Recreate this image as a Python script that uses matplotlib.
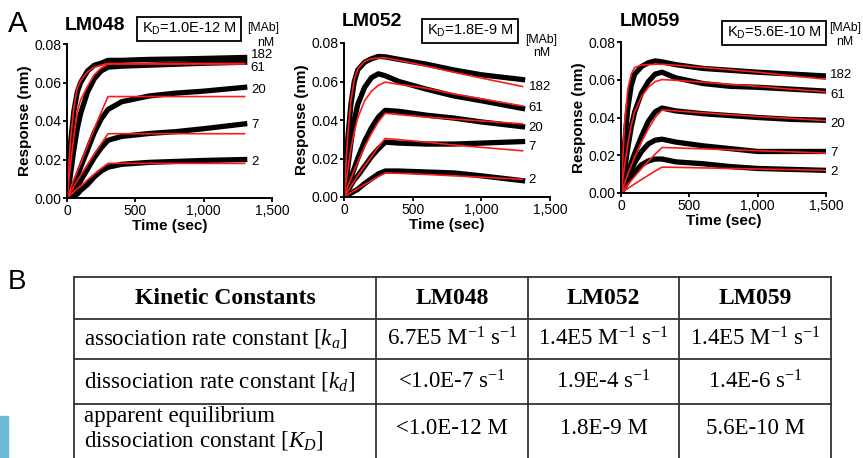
import numpy as np
import matplotlib
matplotlib.use("Agg")
import matplotlib.pyplot as plt
from matplotlib.patches import Rectangle

plt.rcParams['font.family'] = ['Liberation Sans', 'DejaVu Sans']
plt.rcParams['mathtext.fontset'] = 'custom'
plt.rcParams['mathtext.rm'] = 'Liberation Serif'
plt.rcParams['mathtext.it'] = 'Liberation Serif:italic'
plt.rcParams['mathtext.sf'] = 'Liberation Sans'

# ---- sensorgram data ----
conc = ['182', '61', '20', '7', '2']

t_ab = [0, 25, 50, 75, 100, 150, 200, 250, 300, 400, 600, 800, 1000, 1300]
t_c = [0, 25, 50, 75, 100, 150, 200, 250, 300, 400, 600, 800, 1000, 1250, 1500]

# LM048
lm048_data = [
    [0, 0.028, 0.045, 0.055, 0.060, 0.066, 0.069, 0.070, 0.0715, 0.0715, 0.072, 0.0722, 0.0725, 0.073],
    [0, 0.012, 0.025, 0.036, 0.044, 0.055, 0.062, 0.066, 0.068, 0.0685, 0.069, 0.0695, 0.070, 0.0705],
    [0, 0.003, 0.007, 0.011, 0.016, 0.025, 0.034, 0.041, 0.046, 0.050, 0.053, 0.0545, 0.0555, 0.0575],
    [0, 0.001, 0.003, 0.006, 0.009, 0.015, 0.021, 0.026, 0.030, 0.032, 0.0335, 0.0345, 0.036, 0.0385],
    [0, 0.000, 0.001, 0.002, 0.004, 0.007, 0.011, 0.014, 0.016, 0.0175, 0.0185, 0.019, 0.0195, 0.020],
]
lm048_fit = [
    [0, 0.030, 0.047, 0.057, 0.061, 0.0655, 0.068, 0.069, 0.0699, 0.0699, 0.0699, 0.0699, 0.0699, 0.0699],
    [0, 0.017, 0.032, 0.045, 0.051, 0.058, 0.064, 0.0675, 0.0696, 0.0696, 0.0696, 0.0696, 0.0696, 0.0696],
    [0, 0.0048, 0.0094, 0.0138, 0.018, 0.027, 0.036, 0.0445, 0.0527, 0.0527, 0.0527, 0.0527, 0.0527, 0.0527],
    [0, 0.003, 0.006, 0.009, 0.0118, 0.0174, 0.0229, 0.0282, 0.0334, 0.0334, 0.0334, 0.0334, 0.0334, 0.0334],
    [0, 0.0016, 0.0032, 0.0048, 0.0063, 0.0094, 0.0124, 0.0153, 0.018, 0.018, 0.018, 0.018, 0.018, 0.018],
]
lm048_lab_y = [0.0743, 0.0675, 0.0561, 0.0379, 0.0187]

# LM052
lm052_data = [
    [0, 0.028, 0.048, 0.060, 0.066, 0.070, 0.0718, 0.073, 0.0728, 0.0715, 0.069, 0.066, 0.0635, 0.061],
    [0, 0.014, 0.028, 0.040, 0.048, 0.057, 0.062, 0.064, 0.063, 0.060, 0.056, 0.0525, 0.050, 0.046],
    [0, 0.005, 0.010, 0.015, 0.020, 0.029, 0.036, 0.0415, 0.045, 0.0445, 0.0425, 0.041, 0.039, 0.0365],
    [0, 0.003, 0.006, 0.009, 0.011, 0.016, 0.021, 0.025, 0.0285, 0.028, 0.0275, 0.0275, 0.028, 0.0288],
    [0, 0.001, 0.002, 0.003, 0.004, 0.007, 0.0095, 0.012, 0.0135, 0.0135, 0.013, 0.0125, 0.011, 0.0085],
]
lm052_fit = [
    [0, 0.030, 0.050, 0.061, 0.0665, 0.0705, 0.0718, 0.0722, 0.0723, 0.071, 0.068, 0.0648, 0.0618, 0.0574],
    [0, 0.013, 0.025, 0.034, 0.041, 0.050, 0.055, 0.058, 0.0597, 0.0585, 0.0565, 0.0535, 0.051, 0.0473],
    [0, 0.005, 0.0095, 0.014, 0.018, 0.026, 0.033, 0.039, 0.0435, 0.0428, 0.0415, 0.0405, 0.0395, 0.038],
    [0, 0.0028, 0.0055, 0.0082, 0.011, 0.016, 0.021, 0.026, 0.0304, 0.0298, 0.0285, 0.027, 0.0258, 0.024],
    [0, 0.0011, 0.0022, 0.0033, 0.0044, 0.0065, 0.0086, 0.0106, 0.0125, 0.0123, 0.0117, 0.011, 0.0103, 0.0092],
]
lm052_lab_y = [0.0571, 0.0462, 0.0358, 0.026, 0.0088]

# LM059
lm059_data = [
    [0, 0.025, 0.045, 0.057, 0.063, 0.067, 0.069, 0.070, 0.0695, 0.068, 0.066, 0.065, 0.064, 0.063, 0.062],
    [0, 0.012, 0.024, 0.035, 0.043, 0.053, 0.059, 0.063, 0.064, 0.061, 0.058, 0.0565, 0.056, 0.055, 0.054],
    [0, 0.006, 0.011, 0.016, 0.021, 0.030, 0.038, 0.043, 0.045, 0.0435, 0.042, 0.041, 0.040, 0.039, 0.0385],
    [0, 0.004, 0.008, 0.012, 0.016, 0.022, 0.026, 0.028, 0.0285, 0.027, 0.025, 0.0235, 0.022, 0.022, 0.022],
    [0, 0.003, 0.006, 0.009, 0.011, 0.015, 0.017, 0.018, 0.018, 0.0165, 0.0155, 0.014, 0.013, 0.0125, 0.012],
]
lm059_fit = [
    [0, 0.036, 0.055, 0.063, 0.0665, 0.0678, 0.068, 0.0682, 0.0682, 0.0677, 0.0665, 0.0653, 0.064, 0.062, 0.0603],
    [0, 0.014, 0.026, 0.036, 0.043, 0.051, 0.056, 0.059, 0.0601, 0.0597, 0.0587, 0.0575, 0.0565, 0.055, 0.0536],
    [0, 0.005, 0.010, 0.0145, 0.019, 0.027, 0.034, 0.040, 0.044, 0.0435, 0.0425, 0.0415, 0.0405, 0.0395, 0.0383],
    [0, 0.0022, 0.0044, 0.0066, 0.0087, 0.013, 0.0168, 0.0206, 0.0241, 0.0239, 0.0234, 0.0229, 0.0224, 0.0218, 0.0211],
    [0, 0.0012, 0.0024, 0.0036, 0.0048, 0.0071, 0.0094, 0.0116, 0.0137, 0.0136, 0.0133, 0.013, 0.0127, 0.0124, 0.012],
]
lm059_lab_y = [0.0625, 0.0519, 0.0366, 0.0212, 0.0111]

names = ['LM048', 'LM052', 'LM059']
kd_text = ['1.0E-12 M', '1.8E-9 M', '5.6E-10 M']

# ---- table contents ----
tab_header = ['Kinetic Constants', 'LM048', 'LM052', 'LM059']
tab_rows = ['association rate constant [$k_a$]',
            'dissociation rate constant [$k_d$]',
            'apparent equilibrium\ndissociation constant [$K_D$]']
tab_vals = [
    ['6.7E5 M$^{\\mathregular{-1}}$ s$^{\\mathregular{-1}}$', '1.4E5 M$^{\\mathregular{-1}}$ s$^{\\mathregular{-1}}$', '1.4E5 M$^{\\mathregular{-1}}$ s$^{\\mathregular{-1}}$'],
    ['<1.0E-7 s$^{\\mathregular{-1}}$', '1.9E-4 s$^{\\mathregular{-1}}$', '1.4E-6 s$^{\\mathregular{-1}}$'],
    ['<1.0E-12 M', '1.8E-9 M', '5.6E-10 M'],
]

W, H = 863, 458
fig = plt.figure(figsize=(W / 100, H / 100), dpi=100)


def px(x0, y0, x1, y1):
    # pixel box -> figure fraction rect
    return [x0 / W, 1 - y1 / H, (x1 - x0) / W, (y1 - y0) / H]


def ftext(x, y, s, **kw):
    fig.text(x / W, 1 - y / H, s, **kw)


# table (drawn in pixel coordinates on a full-figure axes)
tab = fig.add_axes([0, 0, 1, 1])
tab.set_xlim(0, W)
tab.set_ylim(H, 0)
tab.axis('off')
col_edges = [74, 376, 528, 679, 831]
row_edges = [277, 319, 359, 404, 460]
for x in col_edges:
    tab.plot([x, x], [row_edges[0], row_edges[-1]], color='#333333', lw=1.3, clip_on=False)
for y in row_edges:
    tab.plot([col_edges[0], col_edges[-1]], [y, y], color='#333333', lw=1.3, clip_on=False)
serif = 'Liberation Serif'
fs_tab = 16.5
for j, h in enumerate(tab_header):
    xc = (col_edges[j] + col_edges[j + 1]) / 2
    tab.text(xc, (row_edges[0] + row_edges[1]) / 2 + 1, h, ha='center', va='center',
             family=serif, fontsize=fs_tab + 0.5, fontweight='bold')
for i, r in enumerate(tab_rows):
    yc = (row_edges[i + 1] + row_edges[i + 2]) / 2
    if i == 2:
        yc = 429
    tab.text(84, yc, r, ha='left', va='center', family=serif, fontsize=fs_tab,
             linespacing=1.12)
    for j, v in enumerate(tab_vals[i]):
        xc = (col_edges[j + 1] + col_edges[j + 2]) / 2
        tab.text(xc, yc, v, ha='center', va='center', family=serif, fontsize=fs_tab)

ftext(8, 282, 'B', fontsize=20, ha='left', va='center')
ftext(8, 24, 'A', fontsize=21, ha='left', va='center')
fig.patches.append(Rectangle((0, 0), 8 / W, 42 / H, transform=fig.transFigure,
                             color='#6db9d9', zorder=0))

# sensorgram panels
rects = [px(67, 44, 272, 198), px(344, 43, 550, 197), px(621, 42, 826, 193)]
times = [t_ab, t_ab, t_c]
datas = [lm048_data, lm052_data, lm059_data]
fits = [lm048_fit, lm052_fit, lm059_fit]
lab_ys = [lm048_lab_y, lm052_lab_y, lm059_lab_y]
lab_x = [1345, 1345, 1530]
title_pos = [(65, 25), (342, 22), (620, 21)]
box_pos = [(189, 29), (470, 31), (774, 33)]
mab_pos = [(263, 28, 266, 43), (541, 40, 542, 53), (845, 28, 845, 42)]

for k in range(3):
    ax = fig.add_axes(rects[k])
    for d in datas[k]:
        ax.plot(times[k], d, color='black', lw=3.8, solid_joinstyle='round')
    for f in fits[k]:
        ax.plot(times[k], f, color='#ff1a1a', lw=1.2)
    for c, yl in zip(conc, lab_ys[k]):
        ax.text(lab_x[k], yl, c, fontsize=9.5, ha='left', va='center', clip_on=False)
    ax.set_xlim(0, 1500)
    ax.set_ylim(0, 0.08)
    ax.set_xticks([0, 500, 1000, 1500])
    ax.set_xticklabels(['0', '500', '1,000', '1,500'])
    ax.set_yticks([0, 0.02, 0.04, 0.06, 0.08])
    ax.set_yticklabels(['0.00', '0.02', '0.04', '0.06', '0.08'])
    ax.tick_params(direction='out', length=3, width=1.3, labelsize=10, pad=1)
    for s in ['top', 'right']:
        ax.spines[s].set_visible(False)
    for s in ['left', 'bottom']:
        ax.spines[s].set_linewidth(1.4)
    ax.set_xlabel('Time (sec)', fontsize=11, fontweight='bold', labelpad=1)
    ax.set_ylabel('Response (nm)', fontsize=11, fontweight='bold', labelpad=2)

    ftext(title_pos[k][0], title_pos[k][1], names[k], fontsize=14, fontweight='bold',
          ha='left', va='center')
    ftext(box_pos[k][0], box_pos[k][1], 'K$_{\\mathsf{D}}$=' + kd_text[k], fontsize=10.5,
          ha='center', va='center',
          bbox=dict(boxstyle='square,pad=0.3', fc='white', ec='black', lw=1.3))
    mx, my, nx, ny = mab_pos[k]
    ftext(mx, my, '[MAb]', fontsize=8.8, ha='center', va='center')
    ftext(nx, ny, 'nM', fontsize=8.8, ha='center', va='center')

fig.savefig('out.png', dpi=100)
